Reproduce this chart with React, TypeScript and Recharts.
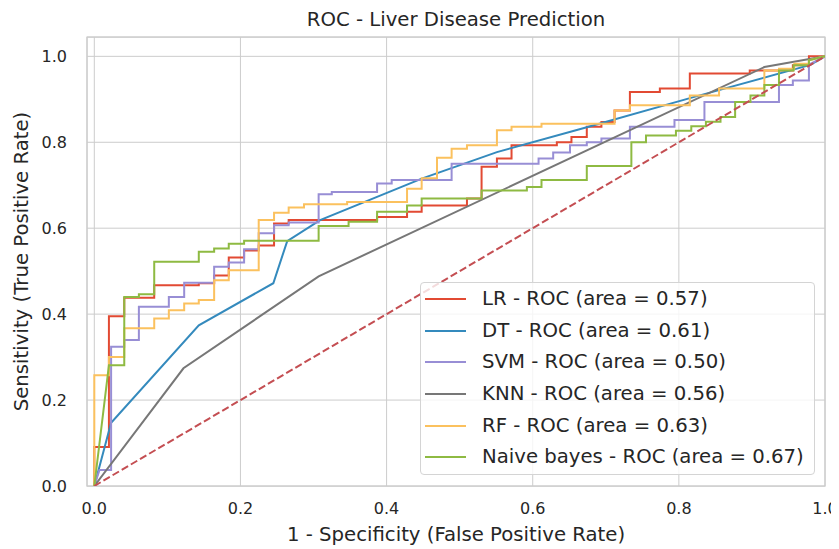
import { LineChart, Line, XAxis, YAxis, CartesianGrid, Legend, Label, ReferenceArea } from 'recharts';

type Pt = [number, number];

// ROC points as [false positive rate, true positive rate]
const lrRoc: Pt[] = [
  [0, 0], [0, 0.091], [0.02, 0.091], [0.02, 0.395], [0.041, 0.395], [0.041, 0.438],
  [0.082, 0.438], [0.082, 0.467], [0.143, 0.467], [0.143, 0.472], [0.164, 0.472], [0.164, 0.49],
  [0.184, 0.49], [0.184, 0.532], [0.205, 0.532], [0.205, 0.548], [0.225, 0.548], [0.225, 0.56],
  [0.246, 0.56], [0.246, 0.611], [0.266, 0.611], [0.266, 0.619], [0.387, 0.619], [0.387, 0.626],
  [0.428, 0.626], [0.428, 0.638], [0.448, 0.638], [0.448, 0.653], [0.51, 0.653], [0.51, 0.669],
  [0.53, 0.669], [0.53, 0.743], [0.551, 0.743], [0.551, 0.762], [0.571, 0.762], [0.571, 0.793],
  [0.633, 0.793], [0.633, 0.8], [0.653, 0.8], [0.653, 0.812], [0.674, 0.812], [0.674, 0.836],
  [0.694, 0.836], [0.694, 0.847], [0.712, 0.847], [0.712, 0.874], [0.733, 0.874], [0.733, 0.917],
  [0.774, 0.917], [0.774, 0.925], [0.815, 0.925], [0.815, 0.96], [0.897, 0.96], [0.897, 0.967],
  [0.956, 0.967], [0.956, 0.979], [0.978, 0.979], [0.978, 1], [1, 1],
];

const dtRoc: Pt[] = [
  [0, 0], [0.023, 0.147], [0.143, 0.374], [0.245, 0.472], [0.264, 0.57], [0.309, 0.619],
  [0.449, 0.716], [0.551, 0.777], [0.674, 0.835], [0.82, 0.905], [0.98, 0.98], [1, 1],
];

const svmRoc: Pt[] = [
  [0, 0], [0.007, 0.037], [0.023, 0.037], [0.023, 0.324], [0.041, 0.324], [0.041, 0.34],
  [0.061, 0.34], [0.061, 0.417], [0.102, 0.417], [0.102, 0.44], [0.123, 0.44], [0.123, 0.473],
  [0.164, 0.473], [0.164, 0.51], [0.184, 0.51], [0.184, 0.52], [0.205, 0.52], [0.205, 0.551],
  [0.225, 0.551], [0.225, 0.588], [0.246, 0.588], [0.246, 0.607], [0.266, 0.607], [0.266, 0.613],
  [0.307, 0.613], [0.307, 0.679], [0.325, 0.679], [0.325, 0.684], [0.387, 0.684], [0.387, 0.704],
  [0.407, 0.704], [0.407, 0.712], [0.489, 0.712], [0.489, 0.75], [0.608, 0.75], [0.608, 0.762],
  [0.628, 0.762], [0.628, 0.776], [0.651, 0.776], [0.651, 0.793], [0.674, 0.793], [0.674, 0.8],
  [0.694, 0.8], [0.694, 0.809], [0.733, 0.809], [0.733, 0.836], [0.794, 0.836], [0.794, 0.852],
  [0.835, 0.852], [0.835, 0.894], [0.937, 0.894], [0.937, 0.933], [0.956, 0.933], [0.956, 0.944],
  [0.978, 0.944], [0.978, 0.981], [1, 1],
];

const knnRoc: Pt[] = [[0, 0], [0.122, 0.274], [0.307, 0.488], [0.917, 0.975], [1, 1]];

const rfRoc: Pt[] = [
  [0, 0], [0, 0.258], [0.02, 0.258], [0.02, 0.3], [0.041, 0.3], [0.041, 0.367],
  [0.082, 0.367], [0.082, 0.39], [0.102, 0.39], [0.102, 0.409], [0.123, 0.409], [0.123, 0.425],
  [0.143, 0.425], [0.143, 0.433], [0.164, 0.433], [0.164, 0.479], [0.184, 0.479], [0.184, 0.502],
  [0.225, 0.502], [0.225, 0.619], [0.246, 0.619], [0.246, 0.636], [0.266, 0.636], [0.266, 0.648],
  [0.287, 0.648], [0.287, 0.656], [0.346, 0.656], [0.346, 0.661], [0.428, 0.661], [0.428, 0.692],
  [0.448, 0.692], [0.448, 0.716], [0.469, 0.716], [0.469, 0.764], [0.489, 0.764], [0.489, 0.785],
  [0.51, 0.785], [0.51, 0.793], [0.551, 0.793], [0.551, 0.828], [0.571, 0.828], [0.571, 0.836],
  [0.612, 0.836], [0.612, 0.843], [0.712, 0.843], [0.712, 0.874], [0.733, 0.874], [0.733, 0.886],
  [0.815, 0.886], [0.815, 0.909], [0.855, 0.909], [0.855, 0.925], [0.917, 0.925], [0.917, 0.967],
  [0.937, 0.967], [0.937, 0.971], [0.958, 0.971], [0.958, 0.983], [0.978, 0.983], [0.978, 0.991],
  [1, 1],
];

const nbRoc: Pt[] = [
  [0, 0], [0.02, 0.281], [0.041, 0.281], [0.041, 0.44], [0.061, 0.44], [0.061, 0.446],
  [0.082, 0.446], [0.082, 0.522], [0.143, 0.522], [0.143, 0.545], [0.164, 0.545], [0.164, 0.553],
  [0.184, 0.553], [0.184, 0.564], [0.205, 0.564], [0.205, 0.571], [0.307, 0.571], [0.307, 0.605],
  [0.348, 0.605], [0.348, 0.615], [0.387, 0.615], [0.387, 0.638], [0.428, 0.638], [0.428, 0.653],
  [0.448, 0.653], [0.448, 0.669], [0.53, 0.669], [0.53, 0.688], [0.592, 0.688], [0.592, 0.696],
  [0.612, 0.696], [0.612, 0.712], [0.674, 0.712], [0.674, 0.745], [0.735, 0.745], [0.735, 0.8],
  [0.755, 0.8], [0.755, 0.816], [0.796, 0.816], [0.796, 0.827], [0.817, 0.827], [0.817, 0.837],
  [0.837, 0.837], [0.837, 0.848], [0.857, 0.848], [0.857, 0.859], [0.877, 0.859], [0.877, 0.894],
  [0.898, 0.894], [0.898, 0.909], [0.917, 0.909], [0.917, 0.933], [0.937, 0.933], [0.937, 0.967],
  [0.957, 0.967], [0.957, 0.979], [0.978, 0.979], [0.978, 0.991], [1, 1],
];

const chanceRoc: Pt[] = [[0, 0], [1, 1]];

const modelNames = ['LR', 'DT', 'SVM', 'KNN', 'RF', 'Naive bayes'];
const modelAucs = [0.57, 0.61, 0.5, 0.56, 0.63, 0.67];
const modelCurves = [lrRoc, dtRoc, svmRoc, knnRoc, rfRoc, nbRoc];
const modelColors = ['#E24A33', '#348ABD', '#988ED5', '#777777', '#FBC15E', '#8EBA42'];

const xTicks = [0, 0.2, 0.4, 0.6, 0.8, 1.0];
const yTicks = [0, 0.2, 0.4, 0.6, 0.8, 1.0];

const FONT = '"DejaVu Sans", sans-serif';
const INK = '#262626';
const GRID = '#cccccc';

const toRows = (pts: Pt[]) => pts.map(([fpr, tpr]) => ({ fpr, tpr }));
const fmt = (v: number) => v.toFixed(1);

function RocLegend() {
  return (
    <div
      style={{
        width: 395,
        height: 193,
        boxSizing: 'border-box',
        border: '1px solid #d4d4d4',
        borderRadius: 4,
        background: 'rgba(255,255,255,0.8)',
        fontFamily: FONT,
      }}
    >
      {modelNames.map((name, i) => (
        <div key={name} style={{ display: 'flex', alignItems: 'center', height: 31.7 }}>
          <span style={{ display: 'inline-block', marginLeft: 4, width: 41, height: 2, background: modelColors[i] }} />
          <span style={{ marginLeft: 16, fontSize: 19.7, lineHeight: 1, color: INK, whiteSpace: 'nowrap' }}>
            {`${name} - ROC (area = ${modelAucs[i].toFixed(2)})`}
          </span>
        </div>
      ))}
    </div>
  );
}

export default function App() {
  return (
    <div style={{ position: 'relative', width: 831, height: 541, fontFamily: FONT }}>
      <style>{'.recharts-surface{overflow:visible}'}</style>
      <LineChart width={831} height={541} margin={{ top: 29, right: 14, bottom: 0, left: 0 }}>
        <CartesianGrid stroke={GRID} strokeWidth={1} />
        <XAxis
          type="number"
          dataKey="fpr"
          domain={[-0.01, 1]}
          allowDataOverflow
          ticks={xTicks}
          interval={0}
          tickFormatter={fmt}
          tick={{ fill: INK, fontSize: 16, fontFamily: FONT }}
          tickLine={false}
          axisLine={false}
          tickSize={0}
          tickMargin={17}
          height={63}
        >
          <Label
            value="1 - Specificity (False Positive Rate)"
            position="insideBottom"
            offset={8}
            fill={INK}
            fontSize={19.7}
            fontFamily={FONT}
          />
        </XAxis>
        <YAxis
          type="number"
          domain={[0, 1.045]}
          allowDataOverflow
          ticks={yTicks}
          interval={0}
          tickFormatter={fmt}
          tick={{ fill: INK, fontSize: 16, fontFamily: FONT }}
          tickLine={false}
          axisLine={false}
          tickSize={0}
          tickMargin={20}
          width={79}
        >
          <Label
            value="Sensitivity (True Positive Rate)"
            angle={-90}
            position="insideLeft"
            offset={13}
            fill={INK}
            fontSize={19.7}
            fontFamily={FONT}
            style={{ textAnchor: 'middle' }}
          />
        </YAxis>
        <ReferenceArea x1={-0.01} x2={1} y1={0} y2={1.045} fill="none" stroke={GRID} strokeWidth={1.25} ifOverflow="visible" />
        {modelCurves.map((curve, i) => (
          <Line
            key={modelNames[i]}
            data={toRows(curve)}
            dataKey="tpr"
            type="linear"
            stroke={modelColors[i]}
            strokeWidth={2}
            dot={false}
            activeDot={false}
            isAnimationActive={false}
          />
        ))}
        <Line
          data={toRows(chanceRoc)}
          dataKey="tpr"
          type="linear"
          stroke="#C44E52"
          strokeWidth={2}
          strokeDasharray="7.4 3.2"
          dot={false}
          activeDot={false}
          isAnimationActive={false}
          legendType="none"
        />
        <Legend
          layout="vertical"
          align="center"
          verticalAlign="middle"
          wrapperStyle={{ left: 412, top: 274, width: 395, height: 193 }}
          content={() => <RocLegend />}
        />
      </LineChart>
      <svg width={831} height={36} style={{ position: 'absolute', left: 0, top: 0, pointerEvents: 'none' }}>
        <text x={448} y={17.5} textAnchor="middle" fill={INK} fontSize={19.7} fontFamily={FONT}>
          ROC - Liver Disease Prediction
        </text>
      </svg>
    </div>
  );
}
